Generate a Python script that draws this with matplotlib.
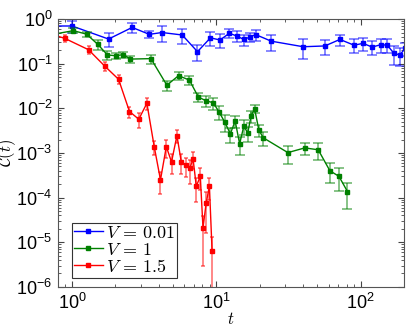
import numpy as np
import matplotlib
matplotlib.use("Agg")
import matplotlib.pyplot as plt
from matplotlib import ticker
from matplotlib.font_manager import FontProperties

plt.rcParams['font.family'] = ['Liberation Sans', 'DejaVu Sans']
plt.rcParams['mathtext.fontset'] = 'custom'
plt.rcParams['mathtext.rm'] = 'Liberation Sans'
plt.rcParams['mathtext.it'] = 'Liberation Sans:italic'

# V = 0.01
t_a = [0.75, 1.0, 1.79, 2.61, 3.43, 4.2, 5.8, 7.4, 9.1, 10.6, 12.3, 13.8, 15.5, 17.2, 18.7,
       24, 40, 56.5, 71.8, 90, 104, 120, 138, 153, 170, 187, 203]
c_a = [0.70, 0.70, 0.357, 0.65, 0.455, 0.50, 0.44, 0.186, 0.38, 0.34, 0.48, 0.42, 0.35, 0.40, 0.45,
       0.32, 0.24, 0.25, 0.35, 0.26, 0.286, 0.236, 0.267, 0.26, 0.171, 0.157, 0.22]
e_a = [0.15, 0.2, 0.12, 0.15, 0.08, 0.2, 0.17, 0.07, 0.13, 0.12, 0.11, 0.11, 0.1, 0.1, 0.12,
       0.13, 0.11, 0.095, 0.1, 0.09, 0.09, 0.08, 0.09, 0.09, 0.075, 0.07, 0.07]

# V = 1
t_b = [0.75, 1.02, 1.26, 1.51, 1.76, 2.01, 2.27, 2.53, 3.52, 4.54, 5.47, 6.5, 7.5, 8.5, 9.5,
       10.4, 11.4, 12.5, 13.5, 14.5, 15.5, 16.5, 17.4, 18.4, 19.7, 21.1, 31.3, 41, 50.8,
       61.2, 70.7, 81]
c_b = [0.46, 0.55, 0.46, 0.27, 0.157, 0.151, 0.16, 0.127, 0.13, 0.033, 0.054, 0.043, 0.018,
       0.0147, 0.0134, 0.0085, 0.005, 0.0027, 0.0052, 0.0016, 0.004, 0.0028, 0.0068, 0.0098,
       0.0033, 0.0022, 0.00102, 0.0013, 0.00118, 0.0004, 0.0003, 0.000137]
e_b = [0.07, 0.07, 0.06, 0.07, 0.035, 0.025, 0.025, 0.025, 0.03, 0.008, 0.01, 0.01, 0.004,
       0.004, 0.004, 0.003, 0.002, 0.001, 0.0015, 0.0007, 0.0015, 0.001, 0.002, 0.002,
       0.001, 0.0008, 0.00045, 0.0004, 0.0005, 0.00019, 0.00016, 0.00008]

# V = 1.5
t_c = [0.75, 0.89, 1.30, 1.69, 2.10, 2.50, 2.90, 3.30, 3.71, 4.10, 4.5, 4.89, 5.33, 5.71,
       6.12, 6.53, 6.90, 7.26, 7.74, 8.08, 8.5, 8.95, 9.34]
c_c = [0.44, 0.37, 0.206, 0.0875, 0.0448, 0.0085, 0.0057, 0.013, 0.00139, 0.00025, 0.00139,
       0.00063, 0.00245, 0.00064, 0.00054, 0.00045, 0.00073, 0.00018, 0.0003, 2.1e-5, 7.6e-5,
       1.8e-4, 6.4e-6]
e_c = [0.06, 0.06, 0.04, 0.02, 0.01, 0.0025, 0.002, 0.004, 0.0005, 0.00013, 0.0006, 0.0003,
       0.0008, 0.0003, 0.00025, 0.00025, 0.0003, 0.0001, 0.00015, 1.8e-5, 6e-5, 9e-5, 6.6e-6]

series = [(t_a, c_a, e_a, 'blue', r'$V\,=\,0.01$', 3.5),
          (t_b, c_b, e_b, 'green', r'$V\,=\,1$', 3.5),
          (t_c, c_c, e_c, 'red', r'$V\,=\,1.5$', 1.5)]

fig = plt.figure(figsize=(4.09, 3.29), dpi=100)
ax = fig.add_axes([0.142, 0.128, 0.846, 0.814])
ax.set_xscale('log')
ax.set_yscale('log')

for t, c, e, col, lab, cap in series:
    ax.errorbar(t, c, yerr=e, fmt='none', ecolor=col, alpha=0.55, elinewidth=1.2,
                capsize=cap, capthick=1.2)
    ax.plot(t, c, '-', color=col, lw=1, marker='s', ms=2.6, label=lab)

ax.set_xlim(0.8, 200)
ax.set_ylim(1e-6, 1)

ax.yaxis.set_major_locator(ticker.LogLocator(base=10, numticks=10))
ax.yaxis.set_minor_locator(ticker.LogLocator(base=10, subs=np.arange(2, 10), numticks=20))
ax.xaxis.set_minor_locator(ticker.LogLocator(base=10, subs=np.arange(2, 10), numticks=20))
ax.yaxis.set_minor_formatter(ticker.NullFormatter())
ax.xaxis.set_minor_formatter(ticker.NullFormatter())
ax.tick_params(which='both', direction='in', top=True, right=True, labelsize=13, colors='#444444',
               labelcolor='black')
ax.tick_params(which='major', length=4, pad=4)
ax.tick_params(which='minor', length=2)
for s in ax.spines.values():
    s.set_color('#555555')

ax.set_xlabel('$t$', fontsize=12, math_fontfamily='cm', labelpad=-1)
ax.set_ylabel(r'$\mathcal{C}(t)$', fontsize=12, math_fontfamily='cm', labelpad=-1)

leg = ax.legend(loc='lower left', bbox_to_anchor=(0.04, 0.035),
                prop=FontProperties(size=13, math_fontfamily='cm'),
                fancybox=False, framealpha=1, edgecolor='#333333',
                handlelength=1.6, labelspacing=0.0, borderpad=0.1, handletextpad=0.2,
                borderaxespad=0)
leg.get_frame().set_linewidth(0.8)

plt.savefig('out.png', dpi=100)
